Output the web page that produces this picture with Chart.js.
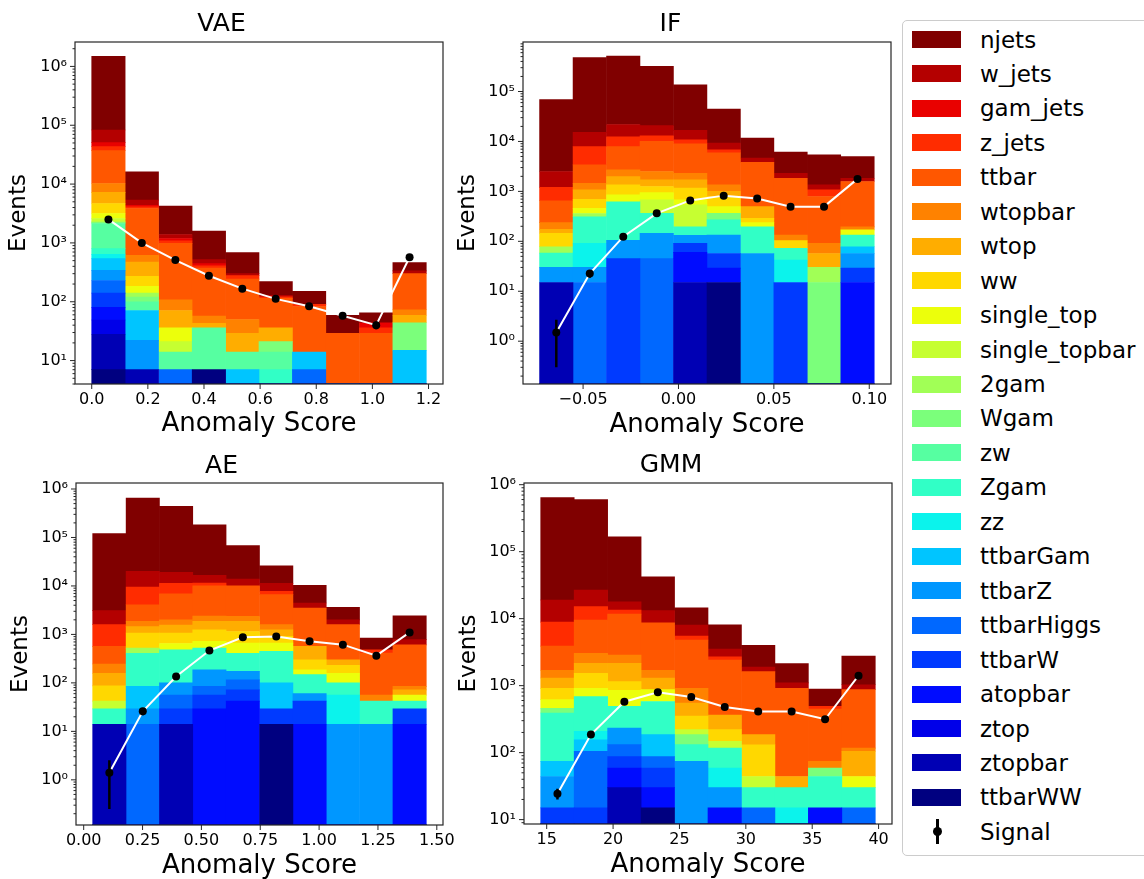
<!DOCTYPE html>
<html>
<head>
<meta charset="utf-8">
<title>Anomaly score distributions</title>
<script src="https://cdn.jsdelivr.net/npm/chart.js@4/dist/chart.umd.min.js"></script>
<style>
    body { margin: 0; background: #fff; font-family: 'DejaVu Sans', sans-serif; }
    #page { position: relative; width: 1144px; height: 879px; overflow: hidden; background: #fff; }
    #page canvas { position: absolute; }
    #legend { position: absolute; left: 902px; top: 20px; width: 270px; height: 834px; border: 1px solid #cccccc; border-radius: 5px; background: #fff; }
    .item { position: absolute; left: 0; width: 260px; height: 30px; line-height: 30px; font-size: 23px; color: #000; }
    .swatch { position: absolute; left: 9px; top: 6.5px; width: 49px; height: 17px; }
    .label { position: absolute; left: 77px; white-space: nowrap; }
    .err { position: absolute; left: 32.5px; top: 2.5px; width: 3px; height: 25px; background: #000; }
    .dot { position: absolute; left: 29.5px; top: 10.5px; width: 9px; height: 9px; border-radius: 50%; background: #000; }
</style>
</head>
<body>
<div id="page">
    <canvas id="vae" width="460" height="450" style="left:0px;top:0px"></canvas>
    <canvas id="if" width="450" height="450" style="left:450px;top:0px"></canvas>
    <canvas id="ae" width="470" height="450" style="left:0px;top:440px"></canvas>
    <canvas id="gmm" width="450" height="450" style="left:450px;top:440px"></canvas>
    <div id="legend"></div>
</div>
<script>
// Background samples, in legend order (njets sits on top of the stack)
const categories = ['njets', 'w_jets', 'gam_jets', 'z_jets', 'ttbar', 'wtopbar', 'wtop', 'ww',
    'single_top', 'single_topbar', '2gam', 'Wgam', 'zw', 'Zgam', 'zz', 'ttbarGam', 'ttbarZ',
    'ttbarHiggs', 'ttbarW', 'atopbar', 'ztop', 'ztopbar', 'ttbarWW'];

// Tick values
const yMajorTicks = [1, 10, 100, 1000, 10000, 100000, 1000000];
const vaeXTicks = [0.0, 0.2, 0.4, 0.6, 0.8, 1.0, 1.2];
const ifXTicks = [-0.05, 0.0, 0.05, 0.10];
const aeXTicks = [0.0, 0.25, 0.5, 0.75, 1.0, 1.25, 1.5];
const gmmXTicks = [15, 20, 25, 30, 35, 40];

// VAE
const vaeEdges = [0, 0.119, 0.238, 0.358, 0.477, 0.596, 0.715, 0.834, 0.954, 1.073, 1.192];
const vaeCounts = [
    [1400000, 10870, 2830, 1070, 384, 93, 61, 30, 21, 128],
    [32300, 960, 200, 75, 22, 7, 0, 0, 0, 34],
    [7400, 260, 110, 35, 0, 0, 0, 0, 8, 0],
    [6300, 260, 100, 35, 35, 7, 7, 0, 7, 0],
    [26800, 3230, 872, 317, 193, 78, 69, 29, 29, 227],
    [3020, 143, 37, 14, 21, 0, 0, 0, 0, 14],
    [2530, 204, 35, 7, 15, 15, 0, 0, 0, 15],
    [1520, 88, 0, 0, 0, 0, 0, 0, 0, 0],
    [560, 41, 15, 0, 0, 0, 0, 0, 0, 0],
    [310, 0, 7, 0, 0, 0, 0, 0, 0, 0],
    [70, 21, 0, 0, 0, 0, 0, 0, 0, 0],
    [80, 20, 0, 0, 0, 7, 0, 0, 0, 29],
    [1340, 29, 7, 29, 7, 7, 0, 0, 0, 0],
    [159, 0, 0, 0, 0, 7, 0, 0, 0, 0],
    [100, 0, 0, 0, 0, 0, 0, 0, 0, 0],
    [199, 49, 0, 0, 7, 0, 7, 0, 0, 15],
    [111, 15, 0, 0, 0, 0, 0, 0, 0, 0],
    [90, 0, 7, 0, 0, 0, 7, 0, 0, 0],
    [60, 0, 0, 0, 0, 0, 0, 0, 0, 0],
    [31, 0, 0, 0, 0, 0, 0, 0, 0, 0],
    [21, 0, 0, 0, 0, 0, 0, 0, 0, 0],
    [21, 7, 0, 0, 0, 0, 0, 0, 0, 0],
    [7, 0, 0, 7, 0, 0, 0, 0, 0, 0]
];
const vaeSignal = [2510, 1000, 510, 277, 167, 112, 84, 58, 40, 570];
const vaeSignalErr = [45, 28, 20, 15, 12, 10, 8, 7, 6, 22];

// IF
const ifEdges = [-0.0728, -0.0553, -0.0377, -0.0202, -0.0026, 0.0149, 0.0325, 0.0500, 0.0675, 0.0851, 0.1026];
const ifCounts = [
    [66500, 465000, 490000, 299000, 119400, 35400, 7050, 3850, 4050, 3170],
    [1300, 7300, 9500, 7700, 5800, 2500, 850, 470, 280, 250],
    [0, 0, 0, 0, 0, 0, 0, 0, 0, 0],
    [550, 4500, 4400, 3000, 1800, 900, 0, 0, 280, 0],
    [414, 1950, 5200, 7500, 6700, 4550, 3305, 1697, 699, 1385],
    [63, 380, 720, 800, 600, 350, 0, 30, 34, 25],
    [28, 380, 630, 450, 540, 210, 205, 0, 27, 0],
    [67, 230, 500, 304, 484, 295, 54, 31, 0, 0],
    [0, 100, 230, 270, 141, 132, 41, 0, 0, 37],
    [0, 0, 0, 313, 340, 0, 0, 0, 0, 0],
    [20, 50, 0, 0, 0, 0, 0, 0, 15, 0],
    [0, 0, 0, 0, 0, 95, 0, 0, 15, 0],
    [0, 0, 0, 0, 0, 0, 0, 0, 0, 0],
    [28, 219, 515, 219, 63, 135, 138, 30, 0, 55],
    [0, 61, 0, 0, 0, 0, 0, 27, 0, 0],
    [0, 0, 0, 0, 0, 0, 0, 0, 0, 21],
    [15, 15, 60, 99, 41, 76, 57, 0, 0, 28],
    [0, 15, 0, 45, 0, 0, 0, 0, 0, 0],
    [0, 0, 45, 0, 31, 28, 0, 15, 0, 14],
    [0, 0, 0, 0, 45, 14, 0, 0, 0, 15],
    [0, 0, 0, 0, 0, 0, 0, 0, 0, 0],
    [15, 0, 0, 0, 15, 0, 0, 0, 0, 0],
    [0, 0, 0, 0, 0, 15, 0, 0, 0, 0]
];
const ifSignal = [1.5, 22.6, 124, 363, 660, 822, 717, 495, 495, 1780];
const ifSignalErr = [1.2, 4, 10, 17, 23, 26, 24, 20, 20, 38];

// AE
const aeEdges = [0.038, 0.180, 0.322, 0.463, 0.605, 0.747, 0.889, 1.030, 1.172, 1.314, 1.455];
const aeCounts = [
    [117000, 630000, 421000, 166400, 54200, 14700, 5850, 1600, 356, 1650],
    [1510, 10500, 7700, 5100, 3800, 3600, 950, 410, 0, 170],
    [0, 0, 0, 0, 0, 0, 0, 0, 0, 0],
    [1025, 5400, 4400, 1500, 0, 1100, 0, 0, 70, 0],
    [320, 2230, 4900, 7600, 7650, 5010, 2935, 1290, 354, 525],
    [87, 420, 450, 530, 480, 340, 0, 0, 14, 13],
    [71, 380, 480, 620, 720, 340, 265, 70, 0, 16],
    [45, 550, 420, 534, 490, 250, 114, 72, 0, 0],
    [0, 0, 170, 196, 252, 210, 38, 58, 0, 14],
    [13, 0, 0, 0, 0, 0, 0, 0, 0, 0],
    [0, 112, 0, 0, 0, 0, 0, 0, 0, 0],
    [0, 0, 0, 0, 0, 0, 0, 0, 0, 0],
    [0, 0, 0, 0, 0, 0, 0, 0, 0, 0],
    [15, 323, 380, 334, 235, 350, 88, 44, 28, 13],
    [0, 0, 0, 0, 0, 0, 0, 42, 0, 0],
    [0, 56, 0, 0, 0, 71, 0, 0, 0, 0],
    [0, 15, 44, 101, 58, 0, 18, 14, 14, 0],
    [0, 14, 27, 29, 43, 0, 0, 0, 0, 0],
    [0, 0, 15, 27, 30, 15, 28, 0, 0, 15],
    [0, 0, 0, 29, 42, 0, 14, 0, 0, 14],
    [0, 0, 0, 0, 0, 0, 0, 0, 0, 0],
    [14, 0, 14, 0, 0, 0, 0, 0, 0, 0],
    [0, 0, 0, 0, 0, 14, 0, 0, 0, 0]
];
const aeSignal = [1.4, 26, 135, 465, 870, 910, 725, 615, 365, 1100];
const aeSignalErr = [1.15, 4.5, 10, 19, 26, 27, 24, 22, 17, 30];

// GMM
const gmmEdges = [14.55, 17.07, 19.59, 22.11, 24.63, 27.15, 29.67, 32.19, 34.71, 37.23, 39.75];
const gmmCounts = [
    [621000, 573300, 148200, 28800, 6500, 4600, 2100, 1040, 400, 1730],
    [10100, 11600, 4400, 4500, 2500, 800, 280, 186, 0, 160],
    [0, 0, 0, 0, 0, 0, 0, 0, 0, 0],
    [5000, 5570, 1700, 0, 700, 300, 0, 0, 45, 0],
    [2200, 6490, 8830, 7000, 3890, 2035, 1434, 870, 371, 753],
    [400, 880, 710, 400, 364, 0, 0, 0, 15, 12],
    [390, 630, 1010, 430, 200, 145, 55, 14, 0, 61],
    [290, 616, 300, 0, 130, 72, 87, 0, 0, 0],
    [160, 227, 360, 290, 0, 0, 0, 0, 0, 14],
    [0, 0, 0, 0, 34, 31, 14, 0, 0, 0],
    [0, 0, 0, 0, 0, 0, 0, 0, 0, 0],
    [70, 0, 0, 0, 54, 0, 0, 0, 15, 0],
    [0, 0, 0, 0, 0, 0, 0, 0, 0, 0],
    [316, 479, 258, 394, 58, 58, 15, 15, 29, 15],
    [0, 53, 0, 0, 0, 29, 0, 15, 0, 0],
    [30, 50, 0, 99, 0, 0, 0, 0, 0, 0],
    [29, 0, 100, 0, 74, 15, 0, 0, 0, 0],
    [0, 90, 45, 28, 0, 0, 15, 0, 0, 15],
    [15, 15, 28, 29, 0, 0, 0, 0, 0, 0],
    [0, 0, 29, 15, 0, 15, 0, 0, 15, 0],
    [0, 0, 0, 0, 0, 0, 0, 0, 0, 0],
    [0, 0, 30, 0, 0, 0, 0, 0, 0, 0],
    [0, 0, 0, 15, 0, 0, 0, 0, 0, 0]
];
const gmmSignal = [24.4, 186, 575, 795, 675, 480, 410, 410, 315, 1410];
const gmmSignalErr = [4.5, 12, 21, 25, 23, 20, 18, 18, 16, 33];

// Panel setup (axis limits and placement inside each canvas)
const panels = [
    { id: 'vae', title: 'VAE', edges: vaeEdges, counts: vaeCounts, signal: vaeSignal, errors: vaeSignalErr,
      xTicks: vaeXTicks, digits: 1, xMin: -0.0596, xMax: 1.2516, yMin: 4.0, yMax: 2.6e6,
      width: 460, area: [75, 42, 443, 384], titlePad: [9, 3], xTitlePad: 10, yTitlePad: 5 },
    { id: 'if', title: 'IF', edges: ifEdges, counts: ifCounts, signal: ifSignal, errors: ifSignalErr,
      xTicks: ifXTicks, digits: 2, xMin: -0.0815, xMax: 0.1114, yMin: 0.139, yMax: 9.8e5,
      width: 450, area: [73, 42, 441, 384], titlePad: [9, 3], xTitlePad: 9, yTitlePad: 4 },
    { id: 'ae', title: 'AE', edges: aeEdges, counts: aeCounts, signal: aeSignal, errors: aeSignalErr,
      xTicks: aeXTicks, digits: 2, xMin: -0.0327, xMax: 1.5263, yMin: 0.117, yMax: 1.33e6,
      width: 470, area: [76, 43, 443, 385], titlePad: [11, 2], xTitlePad: 8, yTitlePad: 7 },
    { id: 'gmm', title: 'GMM', edges: gmmEdges, counts: gmmCounts, signal: gmmSignal, errors: gmmSignalErr,
      xTicks: gmmXTicks, digits: 0, xMin: 13.29, xMax: 41.01, yMin: 8.6, yMax: 1.06e6,
      width: 450, area: [74, 43, 442, 384], titlePad: [10, 3], xTitlePad: 9, yTitlePad: 5 }
];

const CANVAS_H = 450;
const FONT = 'DejaVu Sans';
const SUP = { '-': '\u207B', '0': '\u2070', '1': '\u00B9', '2': '\u00B2', '3': '\u00B3', '4': '\u2074',
    '5': '\u2075', '6': '\u2076', '7': '\u2077', '8': '\u2078', '9': '\u2079' };

Chart.defaults.font.family = FONT;
Chart.defaults.color = '#000';

// matplotlib "jet" colormap
function jet(t) {
    const interp = (pts) => {
        for (let i = 1; i < pts.length; i++) {
            if (t <= pts[i][0]) {
                const [x0, y0] = pts[i - 1];
                const [x1, y1] = pts[i];
                return y0 + (y1 - y0) * (t - x0) / (x1 - x0);
            }
        }
        return pts[pts.length - 1][1];
    };
    const r = interp([[0, 0], [0.35, 0], [0.66, 1], [0.89, 1], [1, 0.5]]);
    const g = interp([[0, 0], [0.125, 0], [0.375, 1], [0.64, 1], [0.91, 0], [1, 0]]);
    const b = interp([[0, 0.5], [0.11, 1], [0.34, 1], [0.65, 0], [1, 0]]);
    return `rgb(${Math.round(r * 255)},${Math.round(g * 255)},${Math.round(b * 255)})`;
}

function colorFor(k) {
    return jet((categories.length - 1 - k) / (categories.length - 1));
}

function isMajor(v) {
    const l = Math.log10(v);
    return Math.abs(l - Math.round(l)) < 1e-9;
}

function powerLabel(v) {
    const e = String(Math.round(Math.log10(v)));
    return '10' + e.split('').map(c => SUP[c]).join('');
}

// log ticks: every 1..9 x 10^n inside the axis range
function logTicks(min, max) {
    const ticks = [];
    yMajorTicks.forEach(p => {
        for (let m = 1; m <= 9; m++) {
            const v = m * p;
            if (v >= min && v <= max) ticks.push({ value: v });
        }
    });
    for (let m = 1; m <= 9; m++) {
        const v = m / 10;
        if (v >= min && v <= max) ticks.push({ value: v });
    }
    return ticks.sort((a, b) => a.value - b.value);
}

// Frame and tick marks, placed through the chart scales
const framePlugin = {
    id: 'frame',
    afterDraw(chart) {
        const { ctx, chartArea: a, scales } = chart;
        ctx.save();
        ctx.strokeStyle = '#262626';
        ctx.lineWidth = 1;
        ctx.beginPath();
        scales.x.ticks.forEach(t => {
            const px = scales.x.getPixelForValue(t.value);
            ctx.moveTo(px, a.bottom);
            ctx.lineTo(px, a.bottom + 5);
        });
        scales.y.ticks.forEach(t => {
            const py = scales.y.getPixelForValue(t.value);
            ctx.moveTo(a.left, py);
            ctx.lineTo(a.left - (isMajor(t.value) ? 5 : 2.5), py);
        });
        ctx.stroke();
        ctx.lineWidth = 1.2;
        ctx.strokeRect(a.left, a.top, a.right - a.left, a.bottom - a.top);
        ctx.restore();
    }
};

// Vertical error bars on the signal points
const errorBarPlugin = {
    id: 'errorBars',
    afterDatasetsDraw(chart) {
        const { ctx, scales } = chart;
        chart.data.datasets.forEach(ds => {
            if (!ds.errors) return;
            ctx.save();
            ctx.strokeStyle = '#000';
            ctx.lineWidth = 2.5;
            ctx.beginPath();
            ds.data.forEach((p, i) => {
                const px = scales.x.getPixelForValue(p.x);
                const lo = Math.max(p.y - ds.errors[i], scales.y.min);
                ctx.moveTo(px, scales.y.getPixelForValue(p.y + ds.errors[i]));
                ctx.lineTo(px, scales.y.getPixelForValue(lo));
            });
            ctx.stroke();
            ctx.restore();
        });
    }
};

function renderPanel(p) {
    const centers = p.edges.slice(1).map((e, j) => (e + p.edges[j]) / 2);

    // bottom of the stack first
    const bars = categories.map((name, k) => ({
        type: 'bar',
        label: name,
        data: centers.map((c, j) => ({ x: c, y: p.counts[k][j] })),
        backgroundColor: colorFor(k),
        borderWidth: 0,
        barPercentage: 1,
        categoryPercentage: 1,
        order: 1
    })).reverse();

    const signal = {
        type: 'line',
        label: 'Signal',
        stack: 'signal',
        data: centers.map((c, j) => ({ x: c, y: p.signal[j] })),
        errors: p.errors,
        borderColor: '#ffffff',
        borderWidth: 2,
        tension: 0,
        pointRadius: 4,
        pointBackgroundColor: '#000',
        pointBorderColor: '#000',
        pointBorderWidth: 0,
        order: 0
    };

    new Chart(document.getElementById(p.id), {
        type: 'bar',
        data: { datasets: [...bars, signal] },
        options: {
            responsive: false,
            animation: false,
            devicePixelRatio: 1,
            layout: { padding: { left: 0, top: 0, right: p.width - p.area[2], bottom: 0 } },
            plugins: {
                legend: { display: false },
                tooltip: { enabled: false },
                title: {
                    display: true,
                    text: p.title,
                    color: '#000',
                    font: { family: FONT, size: 25, weight: 'normal' },
                    padding: { top: p.titlePad[0], bottom: p.titlePad[1] }
                }
            },
            scales: {
                x: {
                    type: 'linear',
                    min: p.xMin,
                    max: p.xMax,
                    offset: false,
                    stacked: true,
                    grid: { display: false, drawTicks: false, offset: false },
                    border: { display: false },
                    afterBuildTicks: scale => { scale.ticks = p.xTicks.map(v => ({ value: v })); },
                    afterFit: scale => {
                        scale.height = CANVAS_H - p.area[3];
                        scale.paddingLeft = 0;
                        scale.paddingRight = 0;
                    },
                    ticks: {
                        autoSkip: false,
                        maxRotation: 0,
                        padding: 6,
                        font: { size: 16 },
                        callback: v => v.toFixed(p.digits).replace('-', '\u2212')
                    },
                    title: {
                        display: true,
                        text: 'Anomaly Score',
                        color: '#000',
                        font: { size: 26 },
                        padding: { top: 0, bottom: p.xTitlePad }
                    }
                },
                y: {
                    type: 'logarithmic',
                    min: p.yMin,
                    max: p.yMax,
                    stacked: true,
                    grid: { display: false, drawTicks: false },
                    border: { display: false },
                    afterBuildTicks: scale => { scale.ticks = logTicks(p.yMin, p.yMax); },
                    afterFit: scale => {
                        scale.width = p.area[0];
                        scale.paddingTop = 0;
                        scale.paddingBottom = 0;
                    },
                    ticks: {
                        autoSkip: false,
                        padding: 8,
                        font: { size: 16 },
                        callback: v => isMajor(v) ? powerLabel(v) : ''
                    },
                    title: {
                        display: true,
                        text: 'Events',
                        color: '#000',
                        font: { size: 23 },
                        padding: { top: p.yTitlePad, bottom: 0 }
                    }
                }
            }
        },
        plugins: [errorBarPlugin, framePlugin]
    });
}

// Legend drawn as HTML next to the panels
function renderLegend() {
    const legendEl = document.getElementById('legend');
    const rowTop = k => (18.5 + k * 34.45 - 15) + 'px';
    categories.forEach((name, k) => {
        const row = document.createElement('div');
        row.className = 'item';
        row.style.top = rowTop(k);
        row.innerHTML = `<span class="swatch" style="background:${colorFor(k)}"></span><span class="label">${name}</span>`;
        legendEl.appendChild(row);
    });
    const sig = document.createElement('div');
    sig.className = 'item';
    sig.style.top = rowTop(categories.length);
    sig.innerHTML = '<span class="err"></span><span class="dot"></span><span class="label">Signal</span>';
    legendEl.appendChild(sig);
}

panels.forEach(renderPanel);
renderLegend();
</script>
</body>
</html>
